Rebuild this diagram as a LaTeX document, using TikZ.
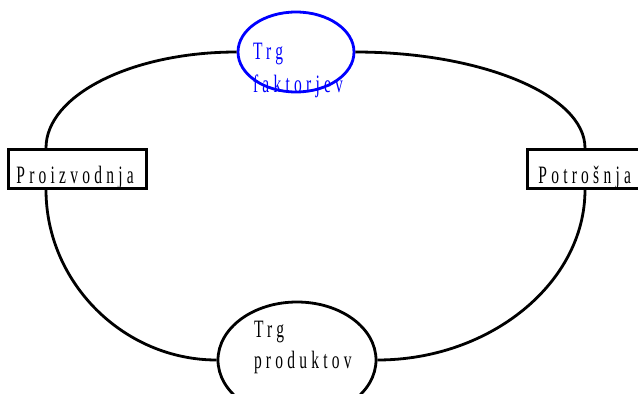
\documentclass[tikz,border=0pt]{standalone}
\usepackage{fontspec}
\setmainfont{Liberation Serif}
\newfontfamily\cond[FakeStretch=0.62,LetterSpace=17]{Liberation Serif}
\usetikzlibrary{shapes.geometric,calc}
\newcommand\twolines[5]{\vbox to 0pt{\offinterlineskip\vskip#2\hbox to 0pt{\hskip#1\smash{#3}\hss}\vskip#5\hbox to 0pt{\hskip#1\smash{#4}\hss}\vss}}
\tikzset{
  loopline/.style={line width=2.8pt, black},
  stagebox/.style={draw, rectangle, line width=2.8pt, inner ysep=0pt, text height=34pt, text depth=5pt, anchor=north west},
  market/.style={draw, ellipse, line width=2.8pt, inner sep=0pt},
}
\begin{document}
\begin{tikzpicture}[x=1pt, y=-1pt, font=\cond\fontsize{25}{28}\selectfont]
\useasboundingbox (0,0) rectangle (638,394);
\node[market, blue, text=blue, minimum width=116pt, minimum height=80pt] (fak) at (296,52) {\twolines{-43pt}{7pt}{Trg}{faktorjev}{33pt}};
\node[market, minimum width=158pt, minimum height=116pt] (prk) at (297,360) {\twolines{-43pt}{-23pt}{Trg}{produktov}{31pt}};
\node[stagebox, inner xsep=8pt] (prod) at (7,148) {\makebox[122pt][l]{Proizvodnja}};
\node[stagebox, inner xsep=11pt] (potr) at (526,148) {\makebox[120pt][l]{Potrošnja}};
\draw[loopline] ($(prod.north west)+(39,0)$) .. controls (46,95) and (132,52) .. (fak.west);
\draw[loopline] (fak.east) .. controls (481,52) and (585,95) .. ($(potr.north west)+(59,0)$);
\draw[loopline] ($(prod.south west)+(39,0)$) .. controls (46,283) and (124,360) .. (prk.west);
\draw[loopline] ($(potr.south west)+(59,0)$) .. controls (585,283) and (490,360) .. (prk.east);
\end{tikzpicture}
\end{document}
